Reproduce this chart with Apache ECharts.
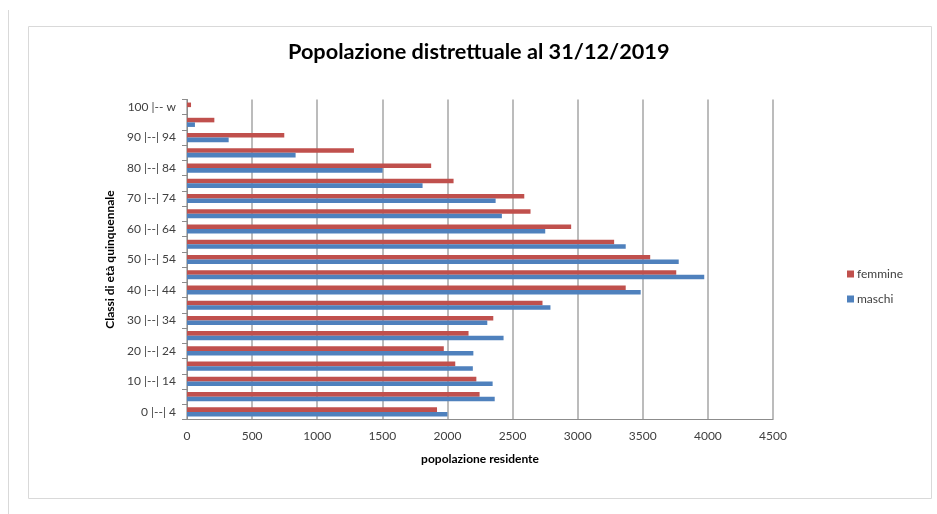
<!DOCTYPE html>
<html>
<head>
<meta charset="utf-8">
<script src="https://cdn.jsdelivr.net/npm/echarts@6/dist/echarts.min.js"></script>
<style>
html,body{margin:0;padding:0;background:#fff;}
#c{width:937px;height:514px;}
</style>
</head>
<body>
<div id="c"></div>
<script>
const categories = ["0 |--| 4","5 |--| 9","10 |--| 14","15 |--| 19","20 |--| 24","25 |--| 29","30 |--| 34","35 |--| 39","40 |--| 44","45 |--| 49","50 |--| 54","55 |--| 59","60 |--| 64","65 |--| 69","70 |--| 74","75 |--| 79","80 |--| 84","85 |--| 89","90 |--| 94","95 |--| 99","100 |-- w"];
const femmine = [1920, 2247, 2222, 2060, 1972, 2162, 2352, 2730, 3369, 3757, 3557, 3280, 2950, 2638, 2590, 2047, 1875, 1282, 747, 210, 31];
const maschi  = [2000, 2363, 2347, 2195, 2199, 2431, 2306, 2791, 3484, 3972, 3776, 3369, 2751, 2418, 2370, 1809, 1502, 834, 320, 61, 0];
const xTicks = {min: 0, max: 4500, interval: 500};

const chart = echarts.init(document.getElementById('c'), null, {renderer: 'canvas'});
const font = 'Lato, "Open Sans", sans-serif';
chart.setOption({
  animation: false,
  textStyle: {fontFamily: font},
  title: {
    text: 'Popolazione distrettuale al 31/12/2019',
    left: 283, top: 36,
    textStyle: {fontFamily: font, fontSize: 21.7, fontWeight: 'bold', color: '#000'}
  },
  legend: {
    orient: 'vertical', left: 842, top: 263,
    itemWidth: 7, itemHeight: 7, itemGap: 13,
    icon: 'rect',
    data: ['femmine', 'maschi'],
    textStyle: {fontFamily: font, fontSize: 12, color: '#404040', padding: [0,0,0,-2]}
  },
  grid: {left: 187, right: 164, top: 99.5, bottom: 94.5, containLabel: false},
  xAxis: {
    type: 'value', min: xTicks.min, max: xTicks.max, interval: xTicks.interval,
    name: 'popolazione residente', nameLocation: 'middle', nameGap: 34,
    nameTextStyle: {fontFamily: font, fontSize: 12, fontWeight: 'bold', color: '#000'},
    axisLine: {show: true, lineStyle: {color: '#8c8c8c', width: 1}},
    axisTick: {show: false},
    axisLabel: {fontFamily: font, fontSize: 12, color: '#404040', margin: 11, formatter: v => String(v)},
    splitLine: {show: true, lineStyle: {color: '#a6a6a6', width: 1.5}}
  },
  yAxis: {
    type: 'category', data: categories,
    name: 'Classi di età quinquennale', nameLocation: 'middle', nameGap: 68, nameRotate: 90,
    nameTextStyle: {fontFamily: font, fontSize: 12, fontWeight: 'bold', color: '#000'},
    axisLine: {show: true, lineStyle: {color: '#8c8c8c', width: 1}},
    axisTick: {show: true, alignWithLabel: false, interval: 0, length: 5, lineStyle: {color: '#8c8c8c'}},
    axisLabel: {interval: 1, fontFamily: font, fontSize: 12, color: '#404040', margin: 11},
    splitLine: {show: false}
  },
  graphic: [
    {type: 'rect', shape: {x: 28.5, y: 26.5, width: 903, height: 472}, style: {fill: 'none', stroke: '#d9d9d9', lineWidth: 1}, z: -1},
    {type: 'line', shape: {x1: 8.5, y1: 10, x2: 8.5, y2: 514}, style: {stroke: '#d9d9d9', lineWidth: 1}, z: -1}
  ],
  series: [
    {name: 'femmine', type: 'bar', data: femmine, barGap: '0%', barCategoryGap: '40%',
     itemStyle: {color: '#C0504D'}},
    {name: 'maschi', type: 'bar', data: maschi, barGap: '0%', barCategoryGap: '40%',
     itemStyle: {color: '#4F81BD'}}
  ]
});
</script>
</body>
</html>
